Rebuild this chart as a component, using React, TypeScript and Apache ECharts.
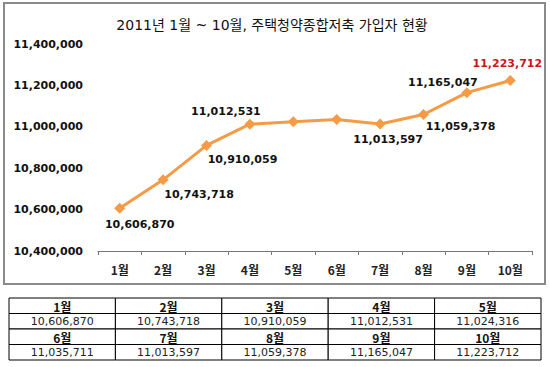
import React, { useEffect, useRef } from "react";
import * as echarts from "echarts";

const months = ["1월", "2월", "3월", "4월", "5월", "6월", "7월", "8월", "9월", "10월"];
const subscribers = [10606870, 10743718, 10910059, 11012531, 11024316, 11035711, 11013597, 11059378, 11165047, 11223712];
const titleText = "2011년 1월 ~ 10월, 주택청약종합저축 가입자 현황";
const yMin = 10400000;
const yMax = 11400000;
const yStep = 200000;

// label placement (style config): which points carry a label and where it sits
const labelShown = [true, true, true, true, false, false, true, true, true, true];
const labelOffsets: [number, number][] = [
  [20, 16], [36, 15], [36, 14], [-24, -13], [0, 0], [0, 0], [8, 16], [37, 12], [-24, -10], [-3, -17],
];

const fmt = (v: number) => v.toLocaleString("en-US");
const NUM_FONT = "DejaVu Sans, Noto Sans CJK KR, sans-serif";
const KR_FONT = "Noto Sans CJK KR, DejaVu Sans, sans-serif";

function buildTable() {
  const left = 9, top = 298, width = 532, rowH = 15.5, cols = 5;
  const colW = width / cols;
  const els: any[] = [];
  const rows = Math.ceil(months.length / cols);
  for (let r = 0; r < rows; r++) {
    for (let c = 0; c < cols; c++) {
      const i = r * cols + c;
      if (i >= months.length) continue;
      const x = left + c * colW;
      const yH = top + r * 2 * rowH;
      const yV = yH + rowH;
      els.push({
        type: "rect", shape: { x, y: yH, width: colW, height: rowH },
        style: { fill: "#fff", stroke: "#000", lineWidth: 1 }, silent: true,
      });
      els.push({
        type: "rect", shape: { x, y: yV, width: colW, height: rowH },
        style: { fill: "#fff", stroke: "#000", lineWidth: 1 }, silent: true,
      });
      els.push({
        type: "text", x: x + colW / 2, y: yH + rowH / 2 + 0.5,
        style: { text: months[i], fontFamily: KR_FONT, fontSize: 12, fontWeight: "bold", fill: "#111", align: "center", verticalAlign: "middle" },
        silent: true,
      });
      els.push({
        type: "text", x: x + colW / 2, y: yV + rowH / 2 + 0.5,
        style: { text: fmt(subscribers[i]), fontFamily: NUM_FONT, fontSize: 11, fill: "#222", align: "center", verticalAlign: "middle" },
        silent: true,
      });
    }
  }
  return els;
}

export default function App() {
  const ref = useRef<HTMLDivElement>(null);
  useEffect(() => {
    document.body.style.margin = "0";
    if (!ref.current) return;
    const chart = echarts.init(ref.current, null, { renderer: "svg" });
    const lastIdx = subscribers.length - 1;
    const data = subscribers.map((v, i) => ({
      value: v,
      label: {
        show: labelShown[i],
        position: "inside",
        offset: labelOffsets[i],
        color: i === lastIdx ? "#c8161d" : "#111",
        fontFamily: NUM_FONT,
        fontSize: 11,
        fontWeight: "bold",
        formatter: (p: any) => fmt(p.value),
      },
    }));
    chart.setOption({
      animation: false,
      backgroundColor: "#fff",
      title: {
        text: titleText,
        left: 267,
        top: 13,
        textAlign: "center",
        textStyle: { fontFamily: NUM_FONT, fontSize: 14, fontWeight: "normal", color: "#111" },
      },
      grid: { left: 98, right: 18, top: 44, bottom: 116, containLabel: false },
      xAxis: {
        type: "category",
        data: months,
        boundaryGap: true,
        axisLine: { show: true, lineStyle: { color: "#777", width: 1 } },
        axisTick: { show: true, length: 4, interval: 0, lineStyle: { color: "#777" } },
        axisLabel: { interval: 0, margin: 12, color: "#222", fontFamily: KR_FONT, fontSize: 12, fontWeight: "bold" },
        splitLine: { show: false },
      },
      yAxis: {
        type: "value",
        min: yMin,
        max: yMax,
        interval: yStep,
        axisLine: { show: false },
        axisTick: { show: false },
        splitLine: { show: false },
        axisLabel: { margin: 15, color: "#111", fontFamily: NUM_FONT, fontSize: 11, fontWeight: "bold", formatter: (v: number) => fmt(v) },
      },
      series: [
        {
          type: "line",
          data,
          symbol: "diamond",
          symbolSize: 11,
          lineStyle: { color: "#F59A45", width: 3 },
          itemStyle: { color: "#F59A45" },
          z: 3,
        },
      ],
      graphic: [
        {
          type: "rect", shape: { x: 4, y: 3, width: 541, height: 281 },
          style: { fill: "none", stroke: "#8a8a8a", lineWidth: 2 }, silent: true, z: -1,
        },
        ...buildTable(),
      ],
    });
    return () => chart.dispose();
  }, []);
  return <div ref={ref} style={{ width: 550, height: 367 }} />;
}
